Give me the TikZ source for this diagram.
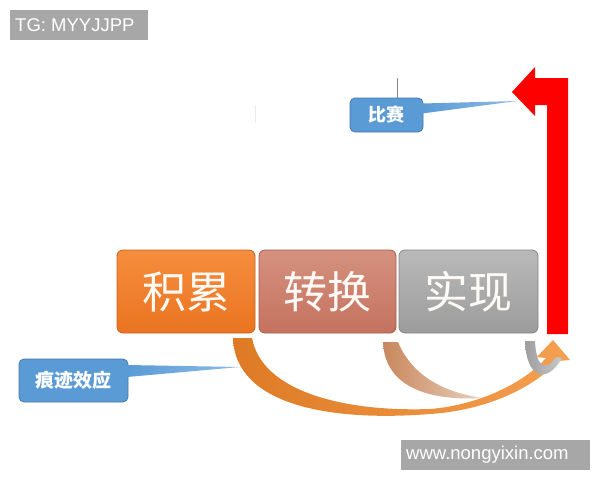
\documentclass[tikz,border=0pt]{standalone}
\usepackage{fontspec}
\setmainfont{Liberation Sans}
\newfontfamily\cjk{Noto Sans CJK SC}
\definecolor{wmgray}{HTML}{A7A7A7}
\definecolor{orA}{HTML}{F68D3E}
\definecolor{orB}{HTML}{EA7420}
\definecolor{orD}{HTML}{C9611A}
\definecolor{saA}{HTML}{D5917F}
\definecolor{saB}{HTML}{C4725F}
\definecolor{saD}{HTML}{A85C4B}
\definecolor{grA}{HTML}{B9B9B9}
\definecolor{grB}{HTML}{9C9C9C}
\definecolor{grD}{HTML}{858585}
\definecolor{callblue}{HTML}{5B9BD5}
\definecolor{callblueL}{HTML}{8DBBE6}
\definecolor{callD}{HTML}{4477AA}
\definecolor{arcA}{HTML}{DE7A24}
\definecolor{arcB}{HTML}{F4A050}
\definecolor{tanA}{HTML}{C8875C}
\definecolor{tanB}{HTML}{E9D0BE}
\definecolor{curlA}{HTML}{9E9E9E}
\definecolor{curlB}{HTML}{C8C8C8}
\definecolor{vred}{HTML}{FF0000}
\tikzset{
  wmtext/.style={anchor=west, text=white, inner sep=0pt,
    font=\fontsize{18.5}{20}\selectfont},
  stepbox/.style={minimum width=138pt, minimum height=83pt, inner sep=0pt,
    rounded corners=6pt, line width=0.8pt, text=white!96!orange,
    font=\cjk\fontsize{44}{44}\selectfont},
  callbox/.style={fill=callblue, draw=callD, line width=0.8pt,
    rounded corners=5pt, inner sep=0pt, text=white,
    font=\cjk\bfseries\fontsize{18}{18}\selectfont},
}
\begin{document}
\begin{tikzpicture}[x=1pt,y=-1pt]
\useasboundingbox (0,0) rectangle (600,480);
\fill[white] (0,0) rectangle (600,480);

% watermarks
\fill[wmgray] (10,10) rectangle (148,39.5);
\node[wmtext] (tg) at (15,25) {TG: MYYJJPP};
\fill[wmgray] (401,440) rectangle (590,470);
\node[wmtext] (wm) at (406,455) {www.nongyixin.com};

% faint lines
\draw[black!45, line width=0.8pt] (397,78) -- (397,98);
\draw[black!8, line width=1pt] (255,105) -- (255,123);

% red arrow
\fill[vred] (512,92) -- (535,67) -- (535,78) -- (568,78) -- (568,334)
  -- (547,334) -- (547,105) -- (535,105) -- (535,116) -- cycle;

% step boxes
\node[stepbox, top color=orA, bottom color=orB, draw=orD] (jilei) at (186,291.5) {积累};
\node[stepbox, minimum width=137pt, top color=saA, bottom color=saB, draw=saD] (zhuanhuan) at (327.5,291.5) {转换};
\node[stepbox, minimum width=139pt, top color=grA, bottom color=grB, draw=grD] (shixian) at (468.5,291.5) {实现};

% tan arc
\shade[left color=tanA, right color=tanB]
  (383,342) .. controls (385,388) and (430,401) .. (482,398)
  .. controls (450,393) and (414,380) .. (398,342) -- cycle;

% big orange arc arrow
\shade[left color=arcA, right color=arcB]
  (233,338) .. controls (235,405) and (330,422) .. (430,414)
  .. controls (490,410) and (535,386) .. (558,361)
  -- (570,360) -- (553,340) -- (537,357) -- (546,358)
  .. controls (525,382) and (480,405) .. (430,409)
  .. controls (345,412) and (262,392) .. (252,338) -- cycle;

% gray curl
\shade[left color=curlA, right color=curlB]
  (525,341) .. controls (526,377) and (546,386) .. (562,358)
  -- (556,357) .. controls (545,373) and (536,366) .. (535,341) -- cycle;

% callouts
\node[callbox, minimum width=73pt, minimum height=34pt] (bisai) at (386.5,115) {比赛};
\shade[left color=callblue, right color=callblueL]
  (422,103.5) -- (517,101) -- (422,113.5) -- cycle;
\node[callbox, minimum width=109pt, minimum height=43pt, font=\cjk\bfseries\fontsize{19}{19}\selectfont] (henji) at (73.5,380.5) {痕迹效应};
\shade[left color=callblue, right color=callblueL]
  (127,365) -- (240,367) -- (127,377) -- cycle;
\end{tikzpicture}
\end{document}
